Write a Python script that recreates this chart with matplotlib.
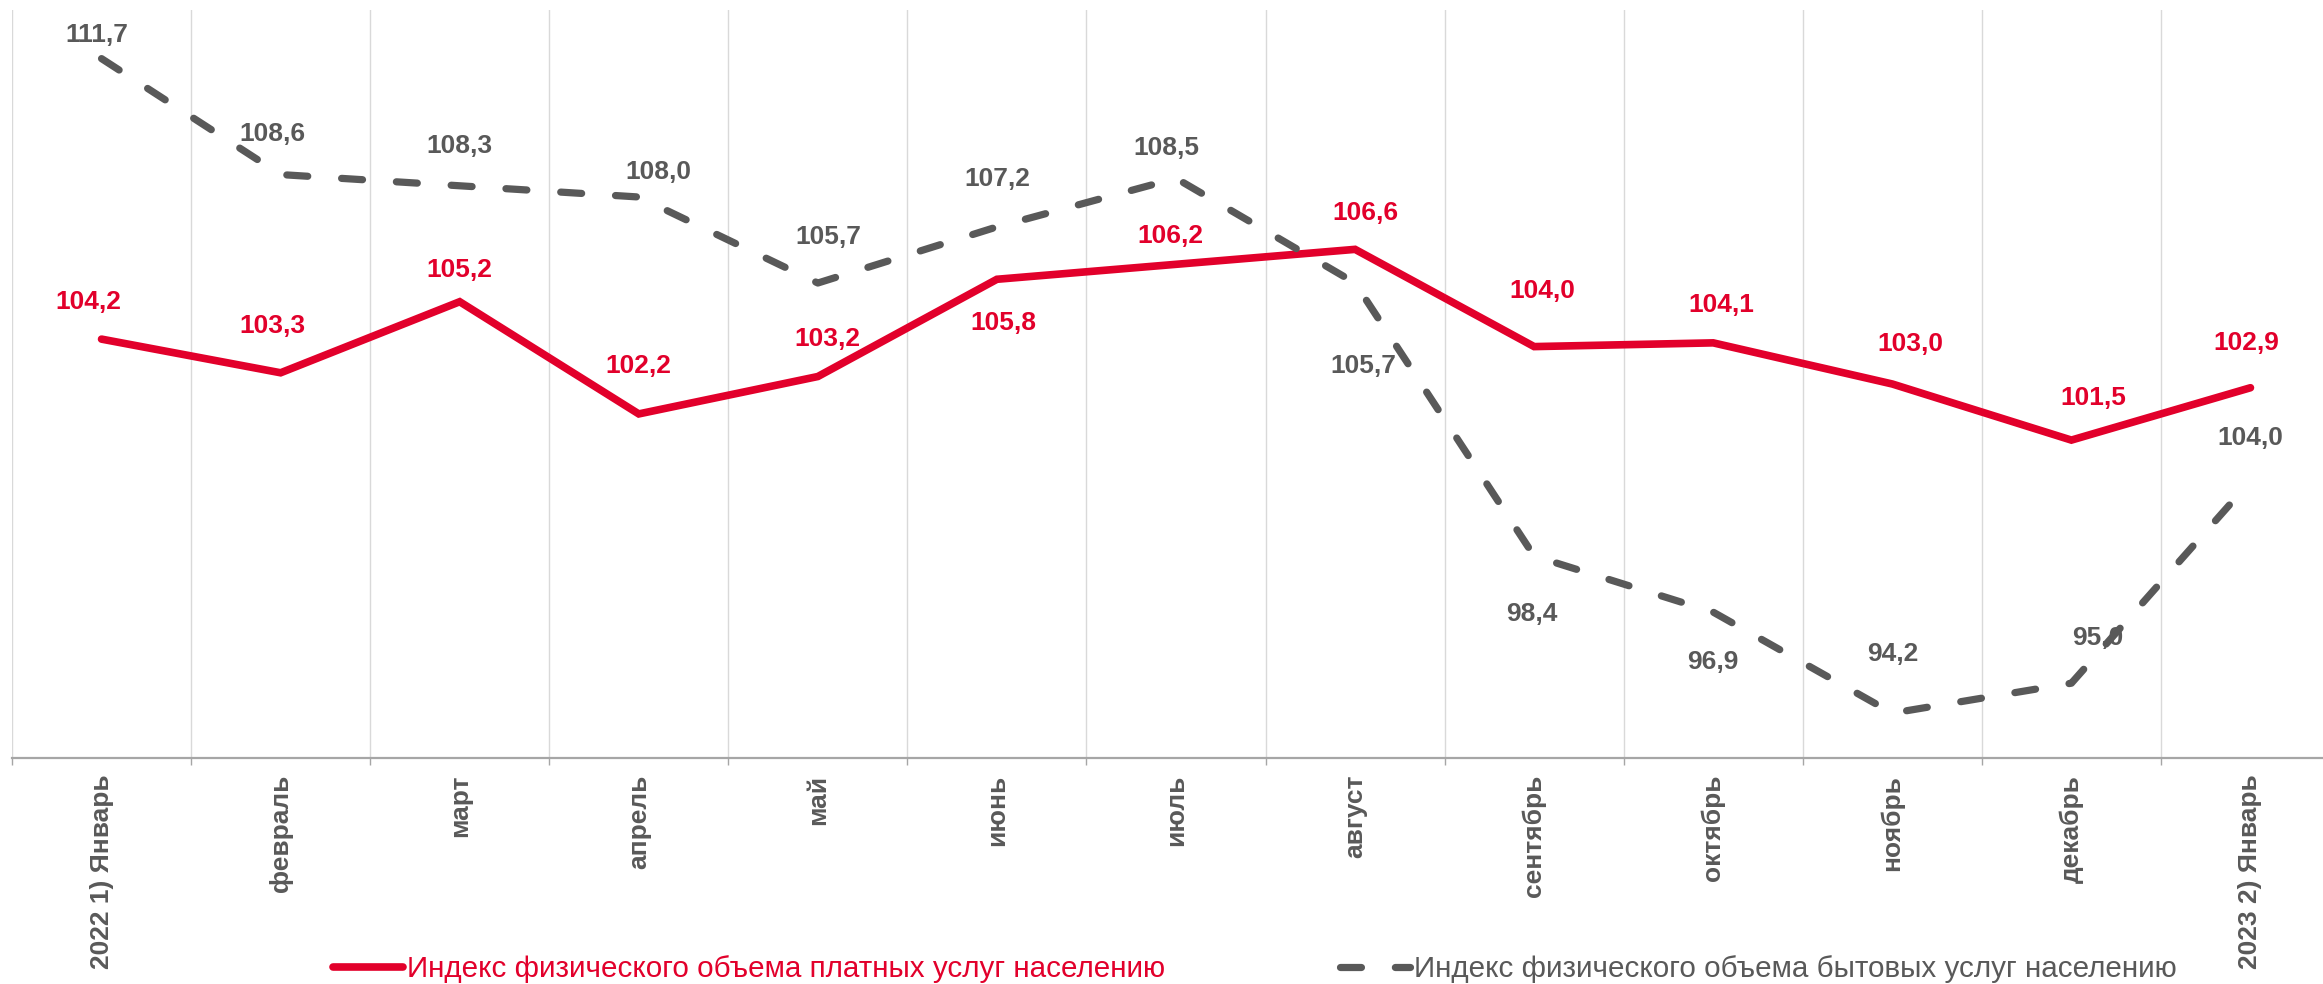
import matplotlib
matplotlib.use('Agg')
import matplotlib.pyplot as plt
import numpy as np

plt.rcParams['font.family'] = ['Liberation Sans', 'DejaVu Sans']

# months on the x axis
months = ['2022 1) Январь', 'февраль', 'март', 'апрель', 'май', 'июнь', 'июль',
          'август', 'сентябрь', 'октябрь', 'ноябрь', 'декабрь', '2023 2) Январь']

# index of paid services (red)
paid = [104.2, 103.3, 105.2, 102.2, 103.2, 105.8, 106.2, 106.6, 104.0, 104.1, 103.0, 101.5, 102.9]

# index of household services (grey) - last point is drawn lower than its label in the original
household = [111.7, 108.6, 108.3, 108.0, 105.7, 107.2, 108.5, 105.7, 98.4, 96.9, 94.2, 95.0, 100.4]
household_labels = ['111,7', '108,6', '108,3', '108,0', '105,7', '107,2', '108,5',
                    '105,7', '98,4', '96,9', '94,2', '95,0', '104,0']

paid_name = 'Индекс физического объема платных услуг населению'
household_name = 'Индекс физического объема бытовых услуг населению'

RED = '#E2002B'
GREY = '#595959'

# label offsets in pixels (dx, dy)
paid_off = [(-13, 37), (-8, 47), (0, 32), (0, 48), (10, 38), (6, -44), (-6, 28),
            (10, 36), (8, 56), (8, 38), (18, 40), (22, 42), (-4, 45)]
house_off = [(-5, 24), (-8, 41), (0, 40), (20, 25), (10, 46), (0, 48), (-10, 30),
             (8, -83), (-2, -58), (0, -50), (0, 59), (26, 45), (0, 43)]

W, H = 2323, 984
fig = plt.figure(figsize=(W / 100, H / 100), dpi=100)
ax = fig.add_axes([12 / W, 1 - 758 / H, 2328 / W, 748 / H])

x = np.arange(len(months))
l1, = ax.plot(x, paid, color=RED, lw=5.5, solid_capstyle='round', solid_joinstyle='miter',
              label=paid_name, zorder=3)
l2, = ax.plot(x, household, color=GREY, lw=5.2, dashes=(2.9, 4.7), dash_capstyle='round',
              label=household_name, zorder=4)

for i, v in enumerate(paid):
    ax.annotate(f'{v:.1f}'.replace('.', ','), (x[i], v), xytext=paid_off[i],
                textcoords='offset pixels', ha='center', va='center',
                fontsize=19, fontweight='bold', color=RED, zorder=5)
for i, v in enumerate(household):
    ax.annotate(household_labels[i], (x[i], v), xytext=house_off[i],
                textcoords='offset pixels', ha='center', va='center',
                fontsize=19, fontweight='bold', color=GREY, zorder=5)

ax.set_xlim(-0.5, len(months) - 0.5)
ax.set_ylim(93, 113)

for s in ['top', 'right', 'left']:
    ax.spines[s].set_visible(False)
ax.spines['bottom'].set_color('#A6A6A6')
ax.spines['bottom'].set_linewidth(1.6)
ax.set_yticks([])

ax.set_xticks(x)
ax.set_xticklabels(months, rotation=90, fontsize=19, fontweight='bold', color=GREY)
ax.tick_params(axis='x', which='major', length=0, pad=12)
ax.set_xticks(np.arange(-0.5, len(months)), minor=True)
ax.tick_params(axis='x', which='minor', length=5, width=1, color='#A6A6A6', direction='out')
ax.grid(True, which='minor', axis='x', color='#D9D9D9', lw=1)
ax.set_axisbelow(True)

# legend at the bottom, two separate entries
for line, xpos in [(l1, 333), (l2, 1340)]:
    fig.legend(handles=[line], loc='center left', bbox_to_anchor=(xpos / W, 1 - 969 / H),
               frameon=False, fontsize=21.3, handlelength=2.35, handletextpad=0.15,
               borderpad=0, borderaxespad=0, labelcolor='linecolor')

fig.savefig('out.png', dpi=100)
